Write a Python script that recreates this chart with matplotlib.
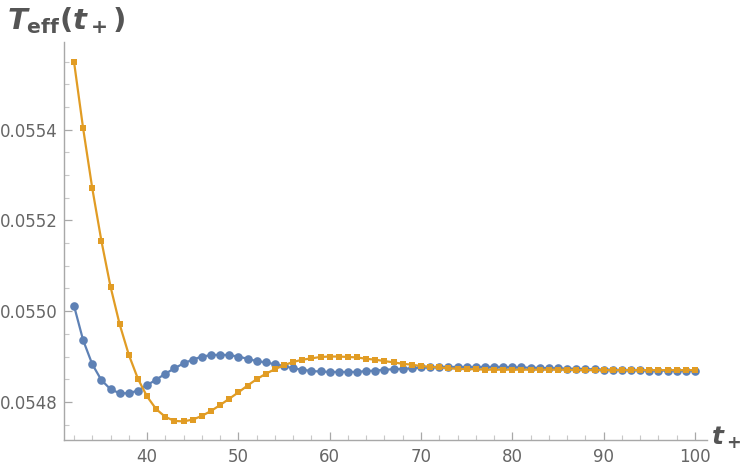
import matplotlib
matplotlib.use("Agg")
import matplotlib.pyplot as plt
from matplotlib.ticker import MultipleLocator

plt.rcParams['mathtext.fontset'] = 'custom'
plt.rcParams['mathtext.it'] = 'DejaVu Sans:italic:bold'
plt.rcParams['mathtext.bf'] = 'DejaVu Sans:bold'
plt.rcParams['mathtext.rm'] = 'DejaVu Sans:bold'

t_plus = list(range(32, 101))

blue_vals = [
    0.055012, 0.054936, 0.054883, 0.054848, 0.054828, 0.054819, 0.054819, 0.054825,
    0.054837, 0.054849, 0.054862, 0.054874, 0.054885, 0.054893, 0.054900, 0.054903,
    0.054904, 0.054903, 0.054900, 0.054895, 0.054890, 0.054887, 0.054883, 0.054879,
    0.054874, 0.054871, 0.054868, 0.054867, 0.054866, 0.054866, 0.054866, 0.054866,
    0.054868, 0.054869, 0.054871, 0.054872, 0.054873, 0.054874, 0.054876, 0.054876,
    0.054877, 0.054877, 0.054877, 0.054877, 0.054877, 0.054877, 0.054877, 0.054877,
    0.054876, 0.054876, 0.054875, 0.054875, 0.054874, 0.054874, 0.054873, 0.054873,
    0.054872, 0.054872, 0.054871, 0.054871, 0.054870, 0.054870, 0.054870, 0.054869,
    0.054869, 0.054869, 0.054869, 0.054869, 0.054869,
]

orange_vals = [
    0.055550, 0.055403, 0.055271, 0.055155, 0.055054, 0.054971, 0.054904, 0.054851,
    0.054812, 0.054784, 0.054767, 0.054758, 0.054757, 0.054761, 0.054769, 0.054780,
    0.054793, 0.054807, 0.054821, 0.054836, 0.054850, 0.054862, 0.054872, 0.054881,
    0.054888, 0.054893, 0.054896, 0.054899, 0.054900, 0.054900, 0.054899, 0.054898,
    0.054895, 0.054893, 0.054890, 0.054887, 0.054884, 0.054882, 0.054879, 0.054877,
    0.054876, 0.054874, 0.054873, 0.054872, 0.054872, 0.054871, 0.054871, 0.054871,
    0.054871, 0.054871, 0.054871, 0.054871, 0.054871, 0.054871, 0.054871, 0.054870,
    0.054870, 0.054870, 0.054870, 0.054870, 0.054870, 0.054870, 0.054870, 0.054870,
    0.054870, 0.054870, 0.054870, 0.054870, 0.054870,
]

x_major = [40, 50, 60, 70, 80, 90, 100]
y_major = [0.0548, 0.0550, 0.0552, 0.0554]
y_labels = ["0.0548", "0.0550", "0.0552", "0.0554"]

BLUE = "#5E81B5"
ORANGE = "#E19C24"
AXC = "#A8A8A8"
TXT = "#666666"

fig = plt.figure(figsize=(7.47, 4.66), dpi=100)
ax = fig.add_axes([0.0861, 0.0558, 0.946 - 0.0861, 0.9105 - 0.0558])

ax.plot(t_plus, blue_vals, color=BLUE, lw=1.6, marker='o', ms=6.2,
        markeredgewidth=0, zorder=3)
ax.plot(t_plus, orange_vals, color=ORANGE, lw=1.6, marker='s', ms=4.6,
        markeredgewidth=0, zorder=4)

ax.set_xlim(30.94, 101.28)
ax.set_ylim(0.054716, 0.055594)

for s in ['top', 'right']:
    ax.spines[s].set_visible(False)
for s in ['left', 'bottom']:
    ax.spines[s].set_color(AXC)
    ax.spines[s].set_linewidth(1.0)

ax.set_xticks(x_major)
ax.set_xticklabels([str(v) for v in x_major])
ax.xaxis.set_minor_locator(MultipleLocator(2))
ax.set_yticks(y_major)
ax.set_yticklabels(y_labels)
ax.yaxis.set_minor_locator(MultipleLocator(0.00005))

ax.tick_params(axis='both', which='major', direction='in', length=6, width=0.9,
               color=AXC, labelcolor=TXT, labelsize=12)
ax.tick_params(axis='both', which='minor', direction='in', length=3.5, width=0.8,
               color="#C8C8C8")
ax.tick_params(axis='x', which='major', pad=6)
ax.tick_params(axis='y', which='major', pad=5)

fig.text(0.010, 0.955, r'$T_{\mathbf{eff}}(t_+)$', fontsize=21, color="#555555",
         ha='left', va='center')
fig.text(0.952, 0.060, r'$t_+$', fontsize=18, color="#555555",
         ha='left', va='center')

fig.savefig("out.png", dpi=100)
